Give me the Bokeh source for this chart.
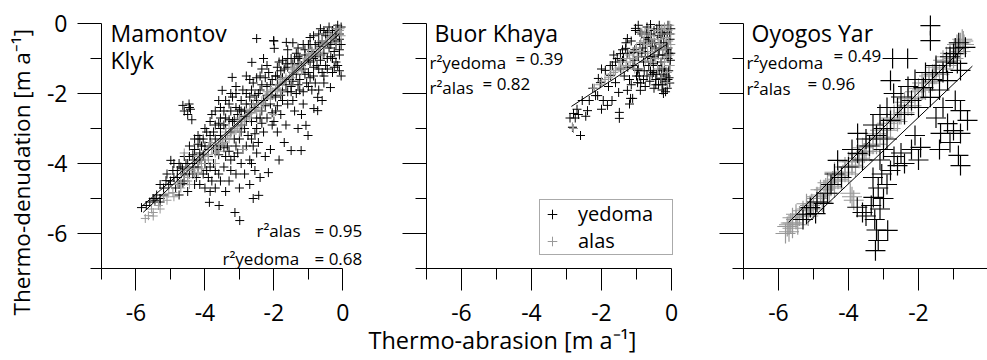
from bokeh.plotting import figure
from bokeh.layouts import row
from bokeh.models import (FixedTicker, Label, Legend, LegendItem, Title,
                          CustomJSTickFormatter, Range1d)
from bokeh.embed import file_html
from bokeh.resources import INLINE

FONT = "Open Sans"

# ---------------- data ----------------
major_ticks = [-6, -4, -2, 0]
minor_ticks = [-7, -5, -3, -1]
axis_bounds = (-7, 0)
x_label = "Thermo-abrasion [m a\u207b\u00b9]"
y_label = "Thermo-denudation [m a\u207b\u00b9]"
legend_labels = ["yedoma", "alas"]

# Mamontov Klyk
mk_yedoma = [
    (-0.05, -0.1), (-0.1, -0.3), (-0.15, -0.05), (-0.2, -0.5), (-0.05, -0.6), (-0.3, -0.2),
    (-0.25, -0.8), (-0.1, -0.9), (-0.35, -0.4), (-0.4, -0.7), (-0.45, -1.0), (-0.15, -1.2),
    (-0.3, -1.4), (-0.05, -1.5), (-0.2, -0.15), (-0.4, -0.1), (-0.5, -0.35), (-0.1, -0.45),
    (-0.3, -1.0), (-0.36, -1.83),
    (-0.55, -0.2), (-0.6, -0.5), (-0.7, -0.3), (-0.8, -0.6), (-0.65, -0.9), (-0.9, -0.8),
    (-0.75, -1.2), (-0.95, -1.1), (-0.6, -1.4), (-0.85, -1.5), (-0.55, -1.7), (-0.7, -1.9),
    (-0.73, -2.11), (-0.84, -2.43), (-0.73, -2.49), (-0.95, -0.4), (-0.9, -1.9), (-0.6, -2.2),
    (-1.0, -1.4), (-0.5, -1.2),
    (-1.07, -2.91), (-1.01, -3.2), (-1.21, -3.63), (-1.5, -3.63), (-1.1, -0.9), (-1.2, -1.2),
    (-1.3, -0.7), (-1.4, -1.0), (-1.05, -1.7), (-1.25, -1.6), (-1.35, -2.0), (-1.45, -1.4),
    (-1.15, -2.3), (-1.4, -2.5), (-1.3, -3.0), (-1.45, -0.55), (-1.2, -2.6), (-1.5, -1.8),
    (-1.64, -0.54), (-1.99, -0.71), (-1.6, -1.0), (-1.7, -1.3), (-1.85, -1.1), (-1.55, -1.6),
    (-1.9, -1.5), (-1.75, -1.9), (-1.95, -2.1), (-1.6, -2.3), (-1.8, -2.6), (-1.65, -2.9),
    (-1.9, -3.1), (-1.7, -3.4), (-2.0, -2.8), (-1.85, -3.9), (-2.0, -0.5),
    (-2.01, -0.49), (-2.5, -0.43), (-2.3, -1.0), (-2.15, -1.4), (-2.4, -1.5), (-2.2, -1.8),
    (-2.45, -2.0), (-2.1, -2.3), (-2.35, -2.5), (-2.05, -2.9), (-2.3, -3.1), (-2.45, -3.4),
    (-2.16, -4.26), (-2.25, -3.8), (-2.44, -4.91), (-2.4, -4.4), (-2.1, -3.6), (-2.3, -2.2),
    (-2.64, -1.11), (-2.8, -1.5), (-2.6, -1.7), (-2.9, -1.9), (-2.7, -2.1), (-2.55, -2.4),
    (-2.85, -2.5), (-2.65, -2.8), (-2.95, -2.9), (-2.75, -3.2), (-2.6, -3.5), (-2.9, -3.6),
    (-2.7, -3.9), (-2.55, -4.2), (-2.85, -4.3), (-2.7, -4.6), (-2.99, -5.63), (-2.6, -5.0),
    (-2.8, -2.3), (-2.5, -2.7),
    (-3.21, -1.54), (-3.5, -1.91), (-3.1, -2.0), (-3.3, -2.3), (-3.45, -2.5), (-3.05, -2.6),
    (-3.2, -2.8), (-3.4, -3.0), (-3.15, -3.3), (-3.35, -3.5), (-3.05, -3.7), (-3.25, -3.9),
    (-3.45, -4.1), (-3.1, -4.3), (-3.3, -4.5), (-3.13, -5.4), (-3.4, -4.8), (-3.0, -4.7),
    (-3.2, -2.1),
    (-3.6, -2.2), (-3.8, -2.6), (-3.7, -2.9), (-3.95, -3.1), (-3.55, -3.2), (-3.85, -3.4),
    (-3.65, -3.6), (-3.9, -3.8), (-3.75, -4.0), (-3.6, -4.3), (-3.95, -4.2), (-3.8, -4.5),
    (-3.59, -5.2), (-3.87, -5.11), (-3.7, -4.7), (-3.55, -2.7),
    (-4.46, -2.3), (-4.42, -2.45), (-4.5, -2.6), (-4.38, -2.75), (-4.2, -3.2), (-4.1, -3.5),
    (-4.3, -3.6), (-4.45, -3.8), (-4.15, -3.9), (-4.35, -4.1), (-4.05, -4.3), (-4.25, -4.4),
    (-4.0, -4.7), (-4.3, -4.0),
    (-4.64, -2.34), (-4.6, -2.5), (-4.99, -3.91), (-4.93, -4.2), (-4.64, -4.57), (-4.7, -4.1),
    (-4.8, -4.4), (-4.55, -4.0), (-4.85, -4.7), (-4.75, -4.9), (-4.6, -4.3),
    (-5.13, -4.49), (-5.2, -4.7), (-5.4, -4.9), (-5.3, -5.0), (-5.84, -5.26), (-5.6, -5.1),
    (-5.1, -4.3),
    (-0.2, -0.6), (-0.2, -1.1), (-0.2, -0.35), (-0.45, -0.55), (-0.45, -0.25), (-0.45, -1.3),
    (-0.65, -0.65), (-0.65, -1.05), (-0.65, -0.15), (-0.85, -1.0), (-0.85, -1.25), (-0.85, -0.35),
    (-1.0, -0.6), (-1.0, -1.05), (-1.0, -1.8), (-1.15, -1.3), (-1.15, -0.6), (-1.15, -1.95),
    (-1.3, -1.15), (-1.3, -1.75), (-1.3, -0.95), (-1.45, -1.65), (-1.45, -1.15), (-1.45, -2.2),
    (-1.6, -1.25), (-1.6, -1.95), (-1.6, -0.75), (-1.75, -1.55), (-1.75, -2.2), (-1.75, -1.05),
    (-1.9, -1.75), (-1.9, -2.35), (-1.9, -1.25), (-2.05, -1.6), (-2.05, -2.05), (-2.05, -2.55),
    (-2.2, -2.05), (-2.2, -1.2), (-2.2, -2.7), (-2.35, -1.75), (-2.35, -2.85), (-2.35, -1.3),
    (-2.5, -1.55), (-2.5, -2.2), (-2.5, -3.0), (-2.5, -3.7), (-2.65, -2.3), (-2.65, -1.9),
    (-2.65, -3.3), (-2.65, -4.0), (-2.8, -2.0), (-2.8, -2.8), (-2.8, -3.5), (-2.95, -2.2),
    (-2.95, -3.1), (-2.95, -2.5), (-2.95, -4.0), (-3.1, -2.4), (-3.1, -3.5), (-3.1, -1.8),
    (-3.25, -2.5), (-3.25, -3.1), (-3.25, -4.2), (-3.25, -2.0), (-3.4, -2.2), (-3.4, -2.7),
    (-3.4, -3.3), (-3.4, -3.8), (-3.55, -2.4), (-3.55, -3.0), (-3.55, -3.5), (-3.55, -4.5),
    (-3.7, -2.5), (-3.7, -3.3), (-3.7, -4.2), (-3.85, -2.8), (-3.85, -3.2), (-3.85, -4.1),
    (-3.85, -4.8), (-4.0, -3.0), (-4.0, -3.5), (-4.0, -4.0), (-4.15, -3.3), (-4.15, -4.6),
    (-4.15, -3.7), (-4.3, -3.3), (-4.3, -3.9), (-4.3, -4.6), (-4.45, -3.5), (-4.45, -4.3),
    (-4.45, -2.4), (-4.6, -3.8), (-4.6, -4.5), (-4.75, -4.0), (-4.75, -4.6), (-4.9, -4.4),
    (-4.9, -4.0), (-5.05, -4.6), (-5.3, -4.6), (-5.3, -5.1), (-5.5, -5.0),
    (-0.1, -0.75), (-0.1, -1.35), (-0.25, -0.45), (-0.25, -1.25), (-0.35, -0.6), (-0.35, -0.95),
    (-0.55, -0.85), (-0.55, -1.5), (-0.7, -0.55), (-0.7, -1.3), (-0.8, -0.95), (-0.8, -1.7),
    (-0.95, -1.55), (-0.95, -0.6), (-1.1, -1.45), (-1.1, -0.75), (-1.25, -1.0), (-1.25, -1.9),
    (-1.35, -1.45), (-1.35, -0.85), (-1.5, -1.0), (-1.5, -1.95), (-1.65, -1.75), (-1.65, -1.15),
    (-1.8, -1.35), (-1.8, -2.05), (-1.95, -1.5), (-1.95, -2.5), (-2.1, -1.75), (-2.1, -2.05),
    (-2.25, -2.35), (-2.25, -1.55), (-2.4, -1.9), (-2.4, -2.7), (-2.55, -2.05), (-2.55, -3.15),
    (-2.7, -2.55), (-2.7, -1.6), (-2.85, -2.65), (-2.85, -3.0), (-3.0, -2.45), (-3.0, -3.3),
    (-3.15, -2.75), (-3.15, -3.8), (-3.3, -2.75), (-3.3, -3.65), (-3.45, -3.55), (-3.45, -2.9),
    (-3.6, -3.75), (-3.6, -2.85), (-3.75, -3.1), (-3.75, -3.6), (-3.9, -3.6), (-3.9, -4.4),
    (-4.05, -3.75), (-4.05, -3.3), (-4.2, -4.1), (-4.2, -3.45), (-4.35, -3.75), (-4.35, -4.3),
    (-4.5, -4.0), (-4.5, -4.8), (-4.65, -4.15), (-4.8, -4.2), (-5.0, -4.5), (-5.2, -4.9),
    (-5.45, -5.05), (-5.7, -5.2),
]
mk_alas = [
    (-5.73, -5.57), (-5.64, -5.49), (-5.5, -5.4), (-5.55, -5.3), (-5.35, -5.2), (-5.2, -4.95),
    (-5.05, -4.85), (-4.93, -4.83), (-4.8, -4.6), (-4.7, -4.55), (-4.6, -4.35), (-4.5, -4.4),
    (-4.4, -4.2), (-4.3, -4.15), (-4.2, -3.95), (-4.1, -4.0), (-4.0, -3.8), (-3.9, -3.75),
    (-3.8, -3.6), (-3.7, -3.55), (-3.6, -3.45), (-3.5, -3.3), (-3.45, -3.4), (-3.35, -3.2),
    (-3.25, -3.15), (-3.15, -3.0), (-3.05, -2.95), (-2.95, -2.8), (-2.85, -2.75), (-2.75, -2.6),
    (-2.65, -2.55), (-2.55, -2.45), (-2.45, -2.3), (-2.35, -2.25), (-2.25, -2.1), (-2.15, -2.05),
    (-2.05, -1.95), (-1.95, -1.85), (-1.85, -1.75), (-1.75, -1.7), (-1.65, -1.55), (-1.55, -1.5),
    (-1.45, -1.4), (-1.35, -1.3), (-1.25, -1.2), (-1.15, -1.1), (-1.05, -1.0), (-0.95, -0.95),
    (-0.85, -0.85), (-0.75, -0.75), (-0.65, -0.7), (-0.55, -0.6), (-0.45, -0.5), (-0.35, -0.4),
    (-0.25, -0.35), (-0.15, -0.25), (-0.08, -0.15), (-0.05, -0.35), (-0.2, -0.55), (-0.4, -0.3),
    (-0.6, -0.9), (-0.9, -0.75), (-1.2, -1.35), (-1.5, -1.3), (-1.8, -1.95), (-2.1, -1.9),
    (-2.4, -2.5), (-2.7, -2.45), (-3.0, -3.1), (-3.3, -3.0), (-3.6, -3.65), (-3.9, -3.55),
    (-4.2, -4.25), (-4.5, -4.15), (-3.7, -4.0), (-4.6, -3.7), (-4.45, -4.6), (-2.9, -3.6),
    (-2.0, -2.6),
    (-0.1, -0.2), (-0.3, -0.45), (-0.5, -0.55), (-0.7, -0.85), (-0.9, -0.9), (-1.1, -1.15),
    (-1.3, -1.35), (-1.5, -1.55), (-1.7, -1.65), (-1.9, -1.9), (-2.1, -2.15), (-2.3, -2.3),
    (-2.5, -2.5), (-2.7, -2.7), (-2.9, -2.9), (-3.1, -3.05), (-3.3, -3.3), (-3.5, -3.45),
    (-3.7, -3.7), (-3.9, -3.9), (-4.1, -4.15), (-4.3, -4.3), (-4.5, -4.5), (-4.7, -4.7),
    (-4.9, -4.95), (-5.1, -5.05), (-5.3, -5.3), (-5.5, -5.5), (-0.2, -0.15), (-0.6, -0.5),
    (-1.0, -0.85), (-1.4, -1.25), (-1.8, -1.6), (-2.2, -1.95), (-2.6, -2.3), (-3.0, -2.7),
    (-3.4, -3.1), (-3.8, -3.4), (-4.2, -3.8), (-4.6, -4.2),
]
# regression fits: (slope, intercept, x_start, x_end)
mk_fits = {"yedoma": (0.86, -0.21, -5.84, -0.1), "alas": (0.92, -0.07, -5.79, -0.1)}
mk_r2 = {"yedoma": "0.68", "alas": "0.95"}

# Buor Khaya
bk_yedoma = [
    (-2.6, -3.2), (-2.8, -2.57), (-2.66, -2.6), (-2.75, -2.7), (-2.4, -2.49), (-2.45, -2.65),
    (-1.83, -2.34), (-1.49, -2.54), (-1.49, -2.71), (-2.11, -2.06), (-2.09, -1.57),
    (-1.69, -1.2), (-1.26, -0.43), (-1.03, -0.2), (-1.31, -0.71), (-1.11, -2.14),
    (-0.89, -1.91), (-0.23, -2.0), (-0.31, -1.57), (-0.51, -1.4), (-2.83, -2.97),
    (-2.17, -2.06), (-2.03, -1.69), (-1.74, -1.49), (-1.89, -1.34), (-1.6, -1.69),
    (-1.51, -1.97), (-1.26, -1.91), (-1.17, -2.14), (-0.97, -1.69), (-0.97, -1.34),
    (-1.37, -1.0), (-1.46, -0.86), (-1.09, -0.83), (-1.03, -0.14), (-0.6, -0.03),
    (-0.85, -0.3), (-0.7, -0.1), (-0.6, -0.5), (-0.75, -0.8), (-0.5, -0.2), (-0.45, -0.7),
    (-0.35, -0.05), (-0.3, -0.4), (-0.25, -0.9), (-0.2, -0.15), (-0.15, -0.6), (-0.1, -0.05),
    (-0.05, -0.3), (-0.1, -1.0), (-0.2, -1.3), (-0.3, -1.1), (-0.15, -1.5), (-0.05, -1.7),
    (-0.4, -1.2), (-0.55, -1.0), (-0.65, -1.2), (-0.8, -1.1), (-0.9, -0.6), (-0.7, -1.5),
    (-0.45, -1.6), (-0.25, -1.75), (-0.12, -1.85), (-0.35, -0.75), (-0.6, -0.8),
    (-0.8, -1.6), (-0.5, -1.85), (-0.15, -0.9), (-0.05, -1.2), (-0.95, -1.3),
    (-0.4, -0.35), (-0.2, -0.3), (-0.1, -0.7), (-0.3, -0.6), (-0.55, -0.65), (-0.7, -0.4),
    (-1.45, -1.3), (-1.35, -1.5), (-1.25, -1.25), (-1.2, -1.6), (-1.15, -0.5), (-1.1, -1.2),
    (-1.05, -0.75), (-1.0, -1.5), (-0.95, -0.95), (-0.9, -0.25), (-0.88, -1.7), (-0.82, -0.7),
    (-0.78, -1.35), (-0.72, -0.25), (-0.68, -0.95), (-0.62, -1.65), (-0.58, -0.3), (-0.52, -1.15),
    (-0.48, -0.55), (-0.42, -1.45), (-0.38, -0.9), (-0.33, -0.25), (-0.28, -1.3), (-0.22, -0.55),
    (-0.18, -1.65), (-0.13, -0.75), (-0.08, -1.35), (-0.04, -0.45), (-0.02, -0.85), (-0.27, -1.9),
    (-0.17, -1.95), (-0.07, -1.55), (-0.37, -1.75), (-0.6, -1.35), (-0.75, -0.55), (-1.3, -0.55),
    (-1.4, -0.75), (-1.55, -1.0), (-1.65, -0.9), (-1.8, -1.8), (-1.95, -2.2), (-2.25, -1.85),
    (-2.35, -2.2), (-2.0, -2.45), (-1.7, -2.2), (-1.2, -2.3), (-2.55, -2.2), (-2.9, -2.7),
    (-2.7, -2.45), (-0.95, -0.05), (-0.5, -0.95), (-0.3, -1.6), (-0.12, -0.25), (-0.02, -0.15),
    (-1.4, -1.05), (-1.25, -0.85), (-1.15, -1.75), (-1.05, -1.05), (-0.92, -1.5), (-0.75, -1.8),
    (-0.65, -0.45), (-0.55, -1.45), (-0.42, -0.15), (-0.35, -1.35), (-0.25, -0.3), (-0.22, -1.45),
    (-0.1, -1.6), (-0.08, -0.85), (-0.03, -1.05), (-0.45, -1.75), (-0.85, -0.85), (-1.6, -1.1),
    (-1.75, -1.2), (-2.0, -1.3),
]
bk_alas = [
    (-0.05, -0.05), (-0.1, -0.2), (-0.2, -0.1), (-0.3, -0.3), (-0.15, -0.4), (-0.4, -0.2),
    (-0.5, -0.45), (-0.35, -0.6), (-0.6, -0.35), (-0.7, -0.6), (-0.55, -0.8), (-0.8, -0.5),
    (-0.9, -0.8), (-1.0, -0.7), (-1.1, -1.0), (-1.2, -0.9), (-1.3, -1.2), (-1.45, -1.1),
    (-1.6, -1.35), (-1.75, -1.45), (-1.9, -1.6), (-2.05, -1.75), (-0.25, -0.75), (-0.1, -0.6),
    (-0.05, -0.9), (-0.45, -1.0), (-0.2, -1.1), (-0.75, -1.05), (-1.05, -1.3), (-0.65, -0.15),
    (-0.85, -0.25), (-2.83, -2.95), (-2.8, -3.0), (-0.12, -1.4), (-0.3, -1.55), (-0.11, -1.69),
    (-0.02, -0.3), (-0.08, -0.5), (-0.18, -0.7), (-0.28, -0.15), (-0.38, -0.45), (-0.48, -0.75),
    (-0.58, -0.55), (-0.68, -0.85), (-0.78, -0.3), (-0.88, -0.55), (-0.98, -0.95), (-1.08, -0.8),
    (-1.18, -1.1), (-1.28, -1.0), (-1.38, -1.3), (-1.5, -1.25), (-1.65, -1.4), (-1.8, -1.55),
    (-2.0, -1.65), (-2.2, -1.85), (-0.15, -0.95), (-0.25, -1.25), (-0.05, -1.2), (-0.4, -1.3),
    (-0.6, -1.1), (-0.02, -0.6),
]
bk_fits = {"yedoma": (0.65, -0.51, -2.86, -0.1)}
bk_r2 = {"yedoma": "0.39", "alas": "0.82"}

# Oyogos Yar
oy_alas = [
    (-5.8, -6.0), (-5.75, -5.8), (-5.7, -5.95), (-5.65, -5.7), (-5.6, -5.85), (-5.5, -5.6),
    (-5.45, -5.75), (-5.4, -5.5), (-5.3, -5.45), (-5.2, -5.3), (-5.15, -5.5), (-5.05, -5.15),
    (-5.0, -5.3), (-4.9, -5.0), (-4.8, -4.9), (-4.75, -5.1), (-4.65, -4.7), (-4.55, -4.85),
    (-4.45, -4.5), (-4.4, -4.7), (-4.3, -4.35), (-4.2, -4.5), (-4.1, -4.1), (-4.0, -4.3),
    (-3.9, -3.95), (-3.8, -4.1), (-3.7, -3.75), (-3.6, -3.9), (-3.5, -3.5), (-3.4, -3.65),
    (-3.3, -3.3), (-3.2, -3.45), (-3.1, -3.05), (-3.0, -3.25), (-2.9, -2.85), (-2.8, -3.0),
    (-2.7, -2.6), (-2.6, -2.8), (-2.5, -2.4), (-2.4, -2.55), (-2.3, -2.15), (-2.2, -2.35),
    (-2.1, -1.95), (-2.0, -2.1), (-1.9, -1.7), (-1.8, -1.9), (-1.7, -1.5), (-1.6, -1.65),
    (-1.5, -1.25), (-1.4, -1.45), (-1.3, -1.05), (-1.2, -1.2), (-1.1, -0.85), (-1.0, -1.0),
    (-0.9, -0.6), (-0.8, -0.8), (-0.75, -0.45), (-0.7, -0.6), (-3.9, -4.95), (-3.85, -5.05),
    (-3.95, -4.85), (-5.6, -5.55), (-4.6, -4.55), (-3.55, -3.7), (-2.55, -2.6), (-1.55, -1.45),
    (-5.7, -5.75), (-5.5, -5.45), (-5.3, -5.35), (-5.1, -5.2), (-4.9, -4.95), (-4.7, -4.75),
    (-4.5, -4.65), (-4.3, -4.45), (-4.1, -4.25), (-3.9, -4.05), (-3.7, -3.85), (-3.5, -3.65),
    (-3.3, -3.45), (-3.1, -3.25), (-2.9, -3.05), (-2.7, -2.75), (-2.5, -2.6), (-2.3, -2.35),
    (-2.1, -2.15), (-1.9, -1.9), (-1.7, -1.7), (-1.5, -1.45), (-1.3, -1.3), (-1.1, -1.05),
    (-0.9, -0.85), (-5.6, -5.7), (-5.2, -5.15), (-4.8, -4.75), (-4.4, -4.25), (-4.0, -3.95),
    (-3.6, -3.55), (-3.2, -3.15), (-2.8, -2.7), (-2.4, -2.25), (-2.0, -1.85), (-1.6, -1.45),
    (-1.2, -0.95), (-0.8, -0.55), (-0.85, -0.7), (-0.72, -0.5),
]
oy_yedoma = [
    (-5.3, -5.6), (-5.2, -5.45), (-5.09, -5.26), (-4.94, -5.43), (-4.71, -5.14), (-4.9, -5.1),
    (-4.6, -4.85), (-4.5, -4.6), (-4.31, -3.91), (-4.4, -4.3), (-4.2, -4.4), (-4.0, -4.1),
    (-3.74, -3.71), (-3.74, -3.14), (-3.9, -3.6), (-3.6, -3.9), (-3.5, -3.3), (-3.4, -3.5),
    (-3.3, -2.9), (-3.2, -3.2), (-3.1, -2.6), (-3.0, -3.0), (-2.9, -2.4), (-2.8, -2.77),
    (-2.8, -1.63), (-2.71, -2.0), (-2.6, -2.4), (-2.5, -2.1), (-2.4, -2.6), (-2.3, -1.8),
    (-2.2, -2.2), (-2.1, -1.6), (-2.0, -2.4), (-1.86, -1.83), (-1.66, -2.11), (-1.8, -1.4),
    (-1.6, -1.6), (-1.5, -1.2), (-1.4, -1.9), (-1.3, -1.4), (-1.17, -1.63), (-1.2, -1.1),
    (-1.0, -0.86), (-0.89, -1.14), (-0.8, -1.34), (-0.95, -0.7), (-0.85, -0.55), (-1.1, -0.95),
    (-2.74, -1.0), (-2.31, -1.0), (-1.66, -0.06), (-1.66, -0.49), (-0.66, -0.68),
    (-3.29, -4.97), (-3.23, -6.49), (-2.88, -5.91), (-3.15, -6.2), (-3.2, -5.9), (-3.25, -5.6),
    (-3.1, -5.3), (-3.35, -5.2), (-3.0, -5.0), (-3.15, -4.7), (-3.3, -4.4), (-3.05, -4.3),
    (-2.9, -4.6), (-3.6, -5.4), (-3.75, -5.25), (-3.5, -5.5), (-2.6, -4.06), (-2.8, -4.2),
    (-2.7, -3.8), (-2.5, -3.7), (-2.4, -4.0), (-2.2, -3.6), (-1.94, -3.54), (-2.1, -3.2),
    (-2.0, -3.9), (-3.0, -3.6), (-2.9, -3.3), (-3.1, -3.9),
    (-1.0, -3.06), (-1.37, -3.14), (-0.8, -2.49), (-0.6, -2.77), (-0.8, -3.14), (-1.17, -2.86),
    (-0.86, -3.77), (-0.8, -4.06), (-1.3, -2.4), (-1.5, -2.7), (-1.1, -3.4), (-0.95, -2.2),
    (-1.4, -3.6),
]
oy_fits = {"alas": (1.0, 0.03, -5.71, -0.7), "yedoma": (0.95, -0.78, -5.17, -0.46)}
oy_r2 = {"yedoma": "0.49", "alas": "0.96"}

YED_COLOR = "black"
ALAS_COLOR = "#999999"


def split(pts):
    return [p[0] for p in pts], [p[1] for p in pts]


def make_panel(width, left, x_end, show_labels):
    p = figure(width=width, height=360, x_range=Range1d(-7, x_end),
               y_range=Range1d(-7, 23 / 35),
               output_backend="svg", toolbar_location=None,
               min_border_left=left, min_border_right=0,
               min_border_top=0, min_border_bottom=92)
    p.outline_line_color = None
    p.grid.visible = False
    p.background_fill_color = "white"
    p.border_fill_color = "white"
    xa, ya = p.xaxis[0], p.yaxis[0]
    for ax in (xa, ya):
        ax.ticker = FixedTicker(ticks=major_ticks, minor_ticks=minor_ticks)
        ax.bounds = axis_bounds
        ax.formatter = CustomJSTickFormatter(code="return tick.toString()")
        ax.axis_line_color = "black"
        ax.axis_line_width = 1
        ax.major_tick_line_color = "black"
        ax.minor_tick_line_color = "black"
        ax.major_tick_in = 0
        ax.minor_tick_in = 0
        ax.minor_tick_out = 11
        ax.major_label_text_font = FONT
        ax.major_label_text_font_size = "23px"
        ax.major_label_text_color = "black"
    xa.major_tick_out = 22
    ya.major_tick_out = 24
    xa.major_label_standoff = 13
    ya.major_label_standoff = 10
    if not show_labels:
        ya.formatter = CustomJSTickFormatter(code="return ''")
    return p


def add_fit(p, fit):
    s, b, x0, x1 = fit
    p.line([x0, x1], [s * x0 + b, s * x1 + b], line_color="black", line_width=1)


def add_text(p, txt, x, y, size="17px", align="left"):
    p.add_layout(Label(x=x, y=y, x_units="screen", y_units="screen", text=txt,
                       text_font=FONT, text_font_size=size, text_color="black",
                       text_align=align, text_baseline="alphabetic"))


# ---------------- panel 1 ----------------
p1 = make_panel(366, 97, (366 - 97) / 35 - 7, True)
p1.add_layout(Title(text=y_label, align="left", offset=-47, vertical_align="top",
                    standoff=10, text_font=FONT, text_font_size="22.5px",
                    text_font_style="normal", text_color="black"), "left")
x, y = split(mk_yedoma)
p1.scatter(x, y, marker="cross", size=9, line_color=YED_COLOR, line_width=1)
x, y = split(mk_alas)
p1.scatter(x, y, marker="cross", size=9, line_color=ALAS_COLOR, line_width=1)
add_fit(p1, mk_fits["yedoma"])
add_fit(p1, mk_fits["alas"])
add_text(p1, "Mamontov", 9, 236, "23px")
add_text(p1, "Klyk", 9, 209, "23px")
add_text(p1, "r\u00b2alas", 155, 38)
add_text(p1, "= " + mk_r2["alas"], 213, 38)
add_text(p1, "r\u00b2yedoma", 121, 10)
add_text(p1, "= " + mk_r2["yedoma"], 213, 10)

# ---------------- panel 2 ----------------
p2 = make_panel(327, 60, 22 / 35, False)
x, y = split(bk_yedoma)
r_y = p2.scatter(x, y, marker="cross", size=9, line_color=YED_COLOR, line_width=1)
x, y = split(bk_alas)
r_a = p2.scatter(x, y, marker="cross", size=9, line_color=ALAS_COLOR, line_width=1)
add_fit(p2, bk_fits["yedoma"])
add_text(p2, "Buor Khaya", 8, 236, "23px")
add_text(p2, "r\u00b2yedoma", 3, 206)
add_text(p2, "= " + bk_r2["yedoma"], 89, 210)
add_text(p2, "r\u00b2alas", 3, 181)
add_text(p2, "= " + bk_r2["alas"], 56, 185)
leg = Legend(items=[LegendItem(label=legend_labels[0], renderers=[r_y]),
                    LegendItem(label=legend_labels[1], renderers=[r_a])],
             location=(113, 13), margin=0, padding=0, spacing=0,
             glyph_width=24, glyph_height=24, label_standoff=14, label_width=94,
             label_text_font=FONT, label_text_font_size="20px", label_text_color="black",
             border_line_color="#555555", border_line_width=1,
             background_fill_color="white", background_fill_alpha=1)
p2.add_layout(leg)
p2.add_layout(Title(text=x_label, align="left", offset=-58, vertical_align="top",
                    standoff=0, text_font=FONT, text_font_size="23.5px",
                    text_font_style="normal", text_color="black"), "below")

# ---------------- panel 3 ----------------
p3 = make_panel(294, 50, -7 + 244 / 35, False)
x, y = split(oy_alas)
p3.scatter(x, y, marker="cross", size=20, line_color=ALAS_COLOR, line_width=1.2)
x, y = split(oy_yedoma)
p3.scatter(x, y, marker="cross", size=20, line_color=YED_COLOR, line_width=1.2)
add_fit(p3, oy_fits["alas"])
add_fit(p3, oy_fits["yedoma"])
add_text(p3, "Oyogos Yar", 8, 236, "23px")
add_text(p3, "r\u00b2yedoma", 3, 206)
add_text(p3, "= " + oy_r2["yedoma"], 90, 213)
add_text(p3, "r\u00b2alas", 3, 180)
add_text(p3, "= " + oy_r2["alas"], 64, 185)

layout = row(p1, p2, p3)
open("out.html", "w").write(file_html(layout, INLINE))
